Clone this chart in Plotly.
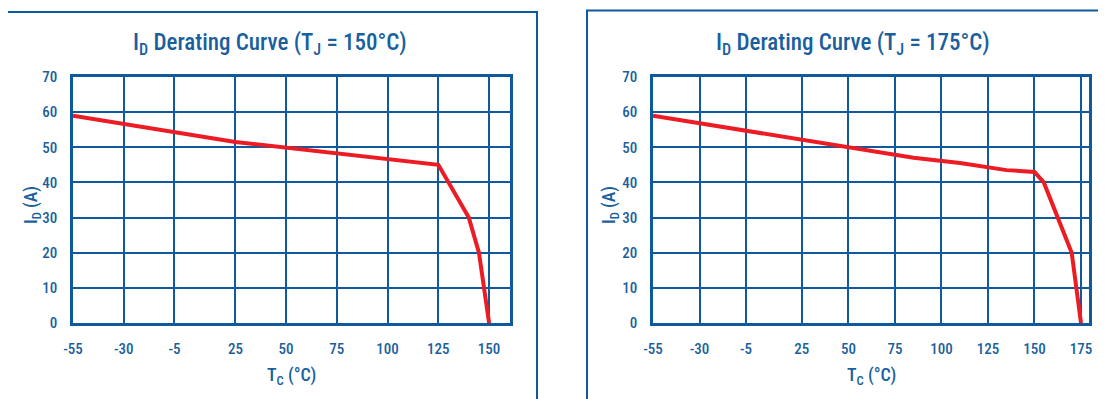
import plotly.graph_objects as go

# ---- data ----
tc_150 = [-55, 25, 125, 130, 140, 145, 150]
id_150 = [59, 51.5, 45, 40, 30, 20, 0]

tc_175 = [-55, 25, 50, 85, 110, 135, 150, 155, 170, 175]
id_175 = [59, 52, 50, 47, 45.5, 43.5, 43, 40, 20, 0]

xticks_150 = [-55, -30, -5, 25, 50, 75, 100, 125, 150]
xticks_175 = [-55, -30, -5, 25, 50, 75, 100, 125, 150, 175]
yticks = [0, 10, 20, 30, 40, 50, 60, 70]

titles = ["I<sub>D</sub> Derating Curve (T<sub>J</sub> = 150°C)",
          "I<sub>D</sub> Derating Curve (T<sub>J</sub> = 175°C)"]
x_title = "T<sub>C</sub> (°C)"
y_title = "I<sub>D</sub> (A)"

# ---- style ----
W, H = 1106, 399
OFF = 8  # page body margin
BLUE = "#0f5a9c"
TEXT = "#1a5f9e"
RED = "#ec1c24"
FONT = "Roboto Condensed, Liberation Sans Narrow, Roboto, sans-serif"

def px(x):
    return (x - OFF) / W

def py(y):
    return 1 - (y - OFF) / H

fig = go.Figure()
fig.add_trace(go.Scatter(x=tc_150, y=id_150, mode="lines",
                         line=dict(color=RED, width=4), xaxis="x", yaxis="y",
                         showlegend=False, hoverinfo="skip"))
fig.add_trace(go.Scatter(x=tc_175, y=id_175, mode="lines",
                         line=dict(color=RED, width=4), xaxis="x2", yaxis="y2",
                         showlegend=False, hoverinfo="skip"))

ydom = [py(323), py(77)]

def xaxis(domain, rng, ticks, anchor):
    return dict(domain=domain, range=rng, tickvals=ticks, ticktext=[str(t) for t in ticks],
                showgrid=True, gridcolor=BLUE, gridwidth=2, zeroline=False,
                showline=True, linecolor=BLUE, linewidth=2.5, mirror=True,
                ticks="", ticklabelstandoff=10, anchor=anchor, automargin=False,
                tickfont=dict(family=FONT, size=15, color=TEXT, weight=500), fixedrange=True)

def yaxis(anchor):
    return dict(domain=ydom, range=[0, 70], tickvals=yticks,
                showgrid=True, gridcolor=BLUE, gridwidth=2, zeroline=False,
                showline=True, linecolor=BLUE, linewidth=2.5, mirror=True,
                ticks="", ticklabelstandoff=10, anchor=anchor, automargin=False,
                tickfont=dict(family=FONT, size=15, color=TEXT, weight=500), fixedrange=True)

fig.update_layout(
    template="none",
    width=W, height=H,
    margin=dict(l=0, r=0, t=0, b=0, pad=0, autoexpand=False),
    paper_bgcolor="white", plot_bgcolor="white",
    xaxis=xaxis([px(73), px(510)], [-55, 160.3], xticks_150, "y"),
    yaxis=yaxis("x"),
    xaxis2=xaxis([px(653), px(1089)], [-55, 179.3], xticks_175, "y2"),
    yaxis2=yaxis("x2"),
)

shapes = [
    dict(type="rect", xref="paper", yref="paper", x0=px(7), x1=px(537), y0=-0.1, y1=py(12),
         line=dict(color=BLUE, width=2)),
    dict(type="rect", xref="paper", yref="paper", x0=px(587), x1=1.1, y0=-0.1, y1=py(10.5),
         line=dict(color=BLUE, width=2)),
]
fig.update_layout(shapes=shapes)

ann = []
for title, cx in zip(titles, [270, 853]):
    ann.append(dict(text=title, x=px(cx), y=py(44), xref="paper", yref="paper",
                    showarrow=False, xanchor="center", yanchor="middle",
                    font=dict(family=FONT, size=23, color=TEXT, weight=500)))
for cx in [291, 871]:
    ann.append(dict(text=x_title, x=px(cx), y=py(376), xref="paper", yref="paper",
                    showarrow=False, xanchor="center", yanchor="middle",
                    font=dict(family=FONT, size=18, color=TEXT, weight=500)))
for cx in [32, 610]:
    ann.append(dict(text=y_title, x=px(cx), y=py(205), xref="paper", yref="paper",
                    showarrow=False, xanchor="center", yanchor="middle", textangle=-90,
                    font=dict(family=FONT, size=18, color=TEXT, weight=500)))
fig.update_layout(annotations=ann)

fig.write_html("out.html")
